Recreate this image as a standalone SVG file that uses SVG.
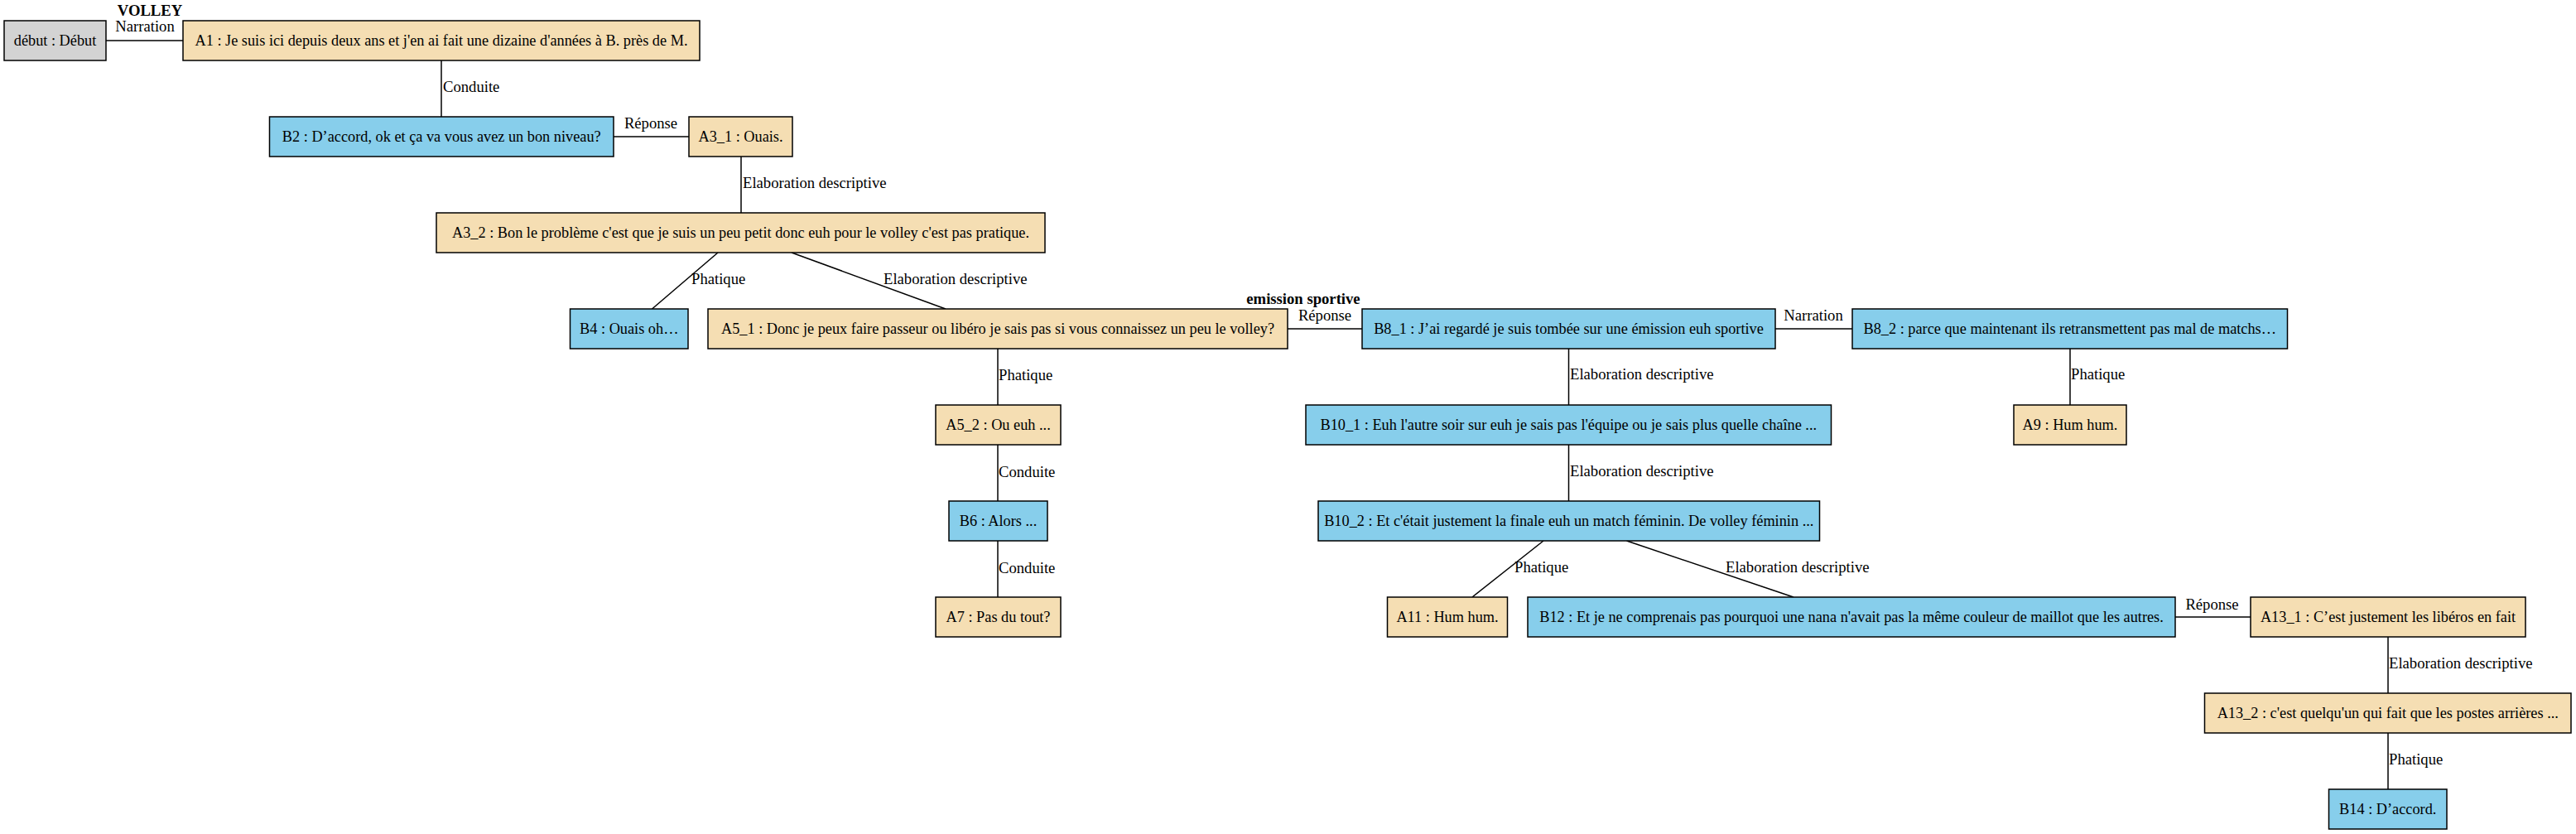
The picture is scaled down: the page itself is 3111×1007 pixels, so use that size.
<svg xmlns="http://www.w3.org/2000/svg" width="3111" height="1007" viewBox="0 0 3111 1007">
<style>
text{font-family:"Liberation Serif","Times New Roman",serif;font-size:18.67px;fill:#000}
.n rect{stroke:#000;stroke-width:1.5}
.n text{text-anchor:middle;font-size:18.3px}
.a rect{fill:#f5deb3}
.b rect{fill:#87ceeb}
.g rect{fill:#d3d3d3}
#edges line{stroke:#000;stroke-width:1.5}
.lm{text-anchor:middle}
.bold{font-weight:bold}
</style>
<rect width="3111" height="1007" fill="#fff"/>
<g id="edges">
<line x1="128" y1="49" x2="221" y2="49"/>
<line x1="533" y1="73" x2="533" y2="141"/>
<line x1="741" y1="165" x2="832" y2="165"/>
<line x1="895" y1="189" x2="895" y2="257"/>
<line x1="867" y1="305" x2="787.5" y2="373"/>
<line x1="956" y1="305" x2="1142" y2="373"/>
<line x1="1555" y1="397" x2="1645" y2="397"/>
<line x1="1205" y1="421" x2="1205" y2="489"/>
<line x1="1205" y1="537" x2="1205" y2="605"/>
<line x1="1205" y1="653" x2="1205" y2="721"/>
<line x1="2144" y1="397" x2="2237" y2="397"/>
<line x1="1894.5" y1="421" x2="1894.5" y2="489"/>
<line x1="2500" y1="421" x2="2500" y2="489"/>
<line x1="1894.5" y1="537" x2="1894.5" y2="605"/>
<line x1="1864" y1="653" x2="1778" y2="721"/>
<line x1="1964.5" y1="653" x2="2166" y2="721"/>
<line x1="2627" y1="745" x2="2718" y2="745"/>
<line x1="2884" y1="769" x2="2884" y2="837"/>
<line x1="2884" y1="885" x2="2884" y2="953"/>
<text class="lm bold" x="181" y="19">VOLLEY</text>
<text class="lm" x="175" y="38">Narration</text>
<text x="535" y="111">Conduite</text>
<text class="lm" x="786" y="155">Réponse</text>
<text x="897" y="227">Elaboration descriptive</text>
<text x="835" y="343">Phatique</text>
<text x="1067" y="343">Elaboration descriptive</text>
<text class="lm bold" x="1574" y="367">emission sportive</text>
<text class="lm" x="1600" y="387">Réponse</text>
<text x="1206" y="459">Phatique</text>
<text x="1206" y="575.5">Conduite</text>
<text x="1206" y="691.5">Conduite</text>
<text class="lm" x="2190" y="387">Narration</text>
<text x="1896" y="458">Elaboration descriptive</text>
<text x="2501" y="458">Phatique</text>
<text x="1896" y="575">Elaboration descriptive</text>
<text x="1829" y="691">Phatique</text>
<text x="2084" y="691">Elaboration descriptive</text>
<text class="lm" x="2671.5" y="736">Réponse</text>
<text x="2885" y="807">Elaboration descriptive</text>
<text x="2885" y="923">Phatique</text>
</g>
<g id="debut" class="n g"><rect x="5" y="25" width="123" height="48"/><text x="66.5" y="55">début : Début</text></g>
<g id="A1" class="n a"><rect x="221" y="25" width="624" height="48"/><text x="533" y="55">A1 : Je suis ici depuis deux ans et j'en ai fait une dizaine d'années à B. près de M.</text></g>
<g id="B2" class="n b"><rect x="325.5" y="141" width="415.5" height="48"/><text x="533.25" y="171">B2 : D’accord, ok et ça va vous avez un bon niveau?</text></g>
<g id="A3_1" class="n a"><rect x="832" y="141" width="125" height="48"/><text x="894.5" y="171">A3_1 : Ouais.</text></g>
<g id="A3_2" class="n a"><rect x="527" y="257" width="735" height="48"/><text x="894.5" y="287">A3_2 : Bon le problème c'est que je suis un peu petit donc euh pour le volley c'est pas pratique.</text></g>
<g id="B4" class="n b"><rect x="688.5" y="373" width="142.5" height="48"/><text x="759.75" y="403">B4 : Ouais oh…</text></g>
<g id="A5_1" class="n a"><rect x="855" y="373" width="700" height="48"/><text x="1205" y="403">A5_1 : Donc je peux faire passeur ou libéro je sais pas si vous connaissez un peu le volley?</text></g>
<g id="A5_2" class="n a"><rect x="1130" y="489" width="151" height="48"/><text x="1205.5" y="519">A5_2 : Ou euh ...</text></g>
<g id="B6" class="n b"><rect x="1146" y="605" width="119" height="48"/><text x="1205.5" y="635">B6 : Alors ...</text></g>
<g id="A7" class="n a"><rect x="1130" y="721" width="151" height="48"/><text x="1205.5" y="751">A7 : Pas du tout?</text></g>
<g id="B8_1" class="n b"><rect x="1645" y="373" width="499" height="48"/><text x="1894.5" y="403">B8_1 : J’ai regardé je suis tombée sur une émission euh sportive</text></g>
<g id="B8_2" class="n b"><rect x="2237" y="373" width="525.5" height="48"/><text x="2499.75" y="403">B8_2 : parce que maintenant ils retransmettent pas mal de matchs…</text></g>
<g id="A9" class="n a"><rect x="2432" y="489" width="136" height="48"/><text x="2500" y="519">A9 : Hum hum.</text></g>
<g id="B10_1" class="n b"><rect x="1577" y="489" width="634.5" height="48"/><text x="1894.25" y="519">B10_1 : Euh l'autre soir sur euh je sais pas l'équipe ou je sais plus quelle chaîne ...</text></g>
<g id="B10_2" class="n b"><rect x="1592" y="605" width="605.5" height="48"/><text x="1894.75" y="635">B10_2 : Et c'était justement la finale euh un match féminin. De volley féminin ...</text></g>
<g id="A11" class="n a"><rect x="1675.5" y="721" width="145" height="48"/><text x="1748" y="751">A11 : Hum hum.</text></g>
<g id="B12" class="n b"><rect x="1845" y="721" width="782" height="48"/><text x="2236" y="751">B12 : Et je ne comprenais pas pourquoi une nana n'avait pas la même couleur de maillot que les autres.</text></g>
<g id="A13_1" class="n a"><rect x="2718" y="721" width="332" height="48"/><text x="2884" y="751">A13_1 : C’est justement les libéros en fait</text></g>
<g id="A13_2" class="n a"><rect x="2662.5" y="837" width="442.5" height="48"/><text x="2883.75" y="867">A13_2 : c'est quelqu'un qui fait que les postes arrières ...</text></g>
<g id="B14" class="n b"><rect x="2812.5" y="953" width="142.5" height="48"/><text x="2883.75" y="983">B14 : D’accord.</text></g>
</svg>
